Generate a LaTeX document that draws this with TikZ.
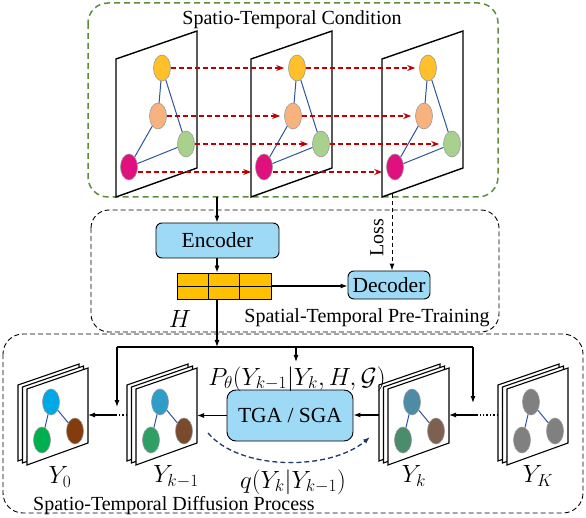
\documentclass[tikz,border=0pt]{standalone}
\usepackage{fontspec}
\setmainfont{Liberation Serif}
\usetikzlibrary{arrows.meta,calc,shapes.geometric}
\definecolor{cyellow}{HTML}{FFC02A}
\definecolor{corange}{HTML}{F8B27E}
\definecolor{cgreen}{HTML}{A9D18E}
\definecolor{cmag}{HTML}{E0107E}
\definecolor{edgeblue}{HTML}{2F55A0}
\definecolor{arrred}{HTML}{C00000}
\definecolor{greendash}{HTML}{5E8C3C}
\definecolor{boxblue}{HTML}{9ED9F5}
\definecolor{hfill}{HTML}{FFC000}
\definecolor{navy}{HTML}{203864}
\definecolor{ca0}{HTML}{00A8E8}\definecolor{cb0}{HTML}{00B050}\definecolor{cc0}{HTML}{843C0C}
\definecolor{ca1}{HTML}{2E9EC8}\definecolor{cb1}{HTML}{2EA066}\definecolor{cc1}{HTML}{7A4A2C}
\definecolor{ca2}{HTML}{4E8CA6}\definecolor{cb2}{HTML}{4A8C6C}\definecolor{cc2}{HTML}{7E6050}
\definecolor{ca3}{HTML}{808080}\definecolor{cb3}{HTML}{808080}\definecolor{cc3}{HTML}{808080}
\newcommand\lblsize{\fontsize{20}{24}\selectfont}
\newcommand\boxsize{\fontsize{21.5}{25}\selectfont}
\newcommand\mathsize{\fontsize{25}{30}\selectfont}
\begin{document}
\begin{tikzpicture}[x=1pt,y=-1pt,
  gnode/.style={ellipse,draw=gray!80,line width=0.6pt,minimum width=17pt,minimum height=26pt,inner sep=0pt},
  gedge/.style={draw=edgeblue,line width=1pt},
  plane/.style={draw=black,line width=1.4pt,fill=white,line join=miter},
  splane/.style={draw=black,line width=1.1pt,fill=white},
  redarr/.style={draw=arrred,dash pattern=on 5pt off 3pt,line width=1.1pt,-{Stealth[length=8pt,width=6pt]},shorten >=4pt},
  blk/.style={line width=1.1pt,-{Latex[length=7pt,width=5pt]}},
  bluebox/.style={draw=black,line width=0.9pt,rounded corners=6pt,fill=boxblue,inner sep=0pt},
  lbl/.style={font=\lblsize,inner sep=0pt},
  mlbl/.style={font=\mathsize,inner sep=0pt}]
\useasboundingbox (0,0) rectangle (586,518);

% outer boxes
\draw[greendash,line width=1.5pt,dash pattern=on 6pt off 4pt,rounded corners=20pt] (88,3) rectangle (498,197);
\draw[black,line width=0.9pt,dash pattern=on 5pt off 3pt,rounded corners=18pt] (91,210) rectangle (499,332);
\draw[black,line width=0.9pt,dash pattern=on 5pt off 3pt,rounded corners=20pt] (3,334) rectangle (583,513);

\node[lbl] (tcond) at (292,20) {Spatio-Temporal Condition};

% top planes
\foreach \dx/\i in {0/1,135/2,266/3}{
  \draw[plane] (116+\dx,59) -- (197+\dx,31) -- (197+\dx,168) -- (116+\dx,197) -- cycle;
  \node[gnode,fill=cyellow] (y\i) at (162+\dx,68) {};
  \node[gnode,fill=corange] (o\i) at (158+\dx,116) {};
  \node[gnode,fill=cgreen] (g\i) at (186+\dx,144) {};
  \node[gnode,fill=cmag] (m\i) at (129+\dx,167) {};
  \draw[gedge] (y\i) -- (o\i);
  \draw[gedge] (y\i) -- (g\i);
  \draw[gedge] (o\i) -- (m\i);
  \draw[gedge] (m\i) -- (g\i);
}
\foreach \a/\b in {1/2,2/3}{
  \draw[redarr] (y\a) -- (y\b);
  \draw[redarr] (o\a) -- (o\b);
  \draw[redarr] (g\a) -- (g\b);
  \draw[redarr] ([yshift=-5pt]m\a.east) -- ([yshift=-5pt]m\b.west);
}

% pre-training
\coordinate (cin) at (217,197);
\coordinate (lossin) at (392,194);
\node[bluebox,minimum width=123pt,minimum height=35pt,font=\boxsize] (enc) at (217.5,240.5) {Encoder};
\node[draw=black,line width=0.8pt,fill=hfill,minimum width=94pt,minimum height=26pt] (H) at (224,286) {};
\draw[line width=0.8pt] ($(H.north west)!0.333!(H.north east)$) -- ($(H.south west)!0.333!(H.south east)$);
\draw[line width=0.8pt] ($(H.north west)!0.667!(H.north east)$) -- ($(H.south west)!0.667!(H.south east)$);
\draw[line width=0.8pt] (H.west) -- (H.east);
\node[bluebox,minimum width=82pt,minimum height=28pt,font=\boxsize] (dec) at (389,285) {Decoder};
\draw[blk] (cin) -- (cin |- enc.north);
\draw[blk] (enc.south -| cin) -- (cin |- H.north);
\draw[blk] (H.east) -- (H.east -| dec.west);
\draw[blk,line width=1pt,dash pattern=on 4pt off 3pt] (lossin) -- (lossin |- dec.north);
\node[lbl,rotate=90] (loss) at (377,238) {Loss};
\node[mlbl] (hlab) at (180,319) {$H$};
\node[lbl] (ptlab) at (367,318) {Spatial-Temporal Pre-Training};

% diffusion stacks
\foreach \X/\n in {27/0,136/1,388/2,507/3}{
  \foreach \s in {2,1}{
    \begin{scope}[shift={(-4.5*\s,-2*\s)}]
      \draw[splane] (\X,389) -- ({\X+61},368) -- ({\X+61},443) -- (\X,465) -- cycle;
    \end{scope}
  }
  \draw[splane] (\X,389) -- ({\X+61},368) -- ({\X+61},443) -- (\X,465) -- cycle;
  \node[gnode,fill=ca\n] (sb\n) at ({\X+24},402) {};
  \node[gnode,fill=cb\n] (sg\n) at ({\X+15},440) {};
  \node[gnode,fill=cc\n] (sr\n) at ({\X+48},431) {};
  \draw[gedge] (sb\n) -- (sg\n);
  \draw[gedge] (sb\n) -- (sr\n);
  \coordinate (sl\n) at ({\X-9},415);
  \coordinate (sR\n) at ({\X+61},415);
}
\node[mlbl] (ylab0) at (60,477) {$Y_0$};
\node[mlbl] (ylab1) at (176,477) {$Y_{k-1}$};
\node[mlbl] (ylab2) at (414,476) {$Y_k$};
\node[mlbl] (ylab3) at (538,476) {$Y_K$};

\node[bluebox,rounded corners=9pt,minimum width=126pt,minimum height=51pt,font=\boxsize] (tga) at (290,415.5) {TGA / SGA};

% connections
\coordinate (jH) at (217,347);
\coordinate (jl) at (117,347);
\coordinate (jr) at (473,347);
\coordinate (jm) at (296,347);
\coordinate (dl) at (115,415);
\coordinate (dr) at (476,415);
\draw[blk] (H.south -| cin) -- (jH);
\draw[line width=1.1pt] (jl) -- (jr);
\draw[blk] (jl) -- (117,407);
\draw[blk] (jr) -- (473,403);
\draw[blk] (jm) -- (296,362);
\draw[line width=1.4pt,dotted] (sl1) -- (dl);
\draw[blk] (dl) -- (sR0);
\draw[line width=1.4pt,dotted] (sl3) -- (dr);
\draw[blk] (dr) -- (sR2);
\draw[blk] (tga.west) -- (tga.west -| sR1);
\draw[blk] (sl2) -- (sl2 -| tga.east);
\coordinate (qs) at (208,433);
\coordinate (qe) at (370,437);
\draw[navy,line width=1.3pt,dash pattern=on 5pt off 3pt,-{Latex[length=7pt,width=5pt]}] (qs) .. controls (240,471) and (330,471) .. (qe);

\node[mlbl] (plab) at (297,379) {$P_\theta(Y_{k-1}|Y_k,H,\mathcal{G})$};
\node[mlbl] (qlab) at (293,482) {$q(Y_k|Y_{k-1})$};
\node[lbl,anchor=base] (dplab) at (174,510) {Spatio-Temporal Diffusion Process};
\end{tikzpicture}
\end{document}
